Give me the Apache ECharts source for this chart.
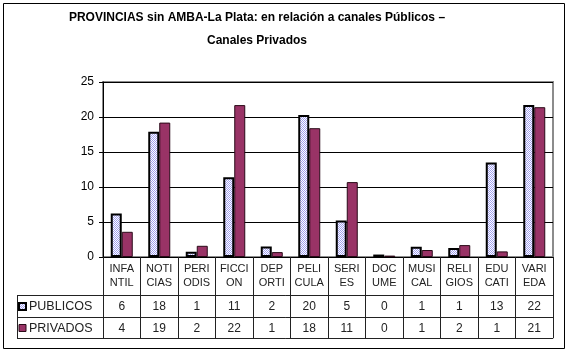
<!DOCTYPE html>
<html>
<head>
<meta charset="utf-8">
<script src="https://cdn.jsdelivr.net/npm/echarts@6/dist/echarts.min.js"></script>
<style>
  html, body { margin: 0; padding: 0; background: #fff; }
  #chart { width: 571px; height: 354px; }
</style>
</head>
<body>
<div id="chart"></div>
<script>
// datos
const categories = ['INFA\nNTIL', 'NOTI\nCIAS', 'PERI\nODIS', 'FICCI\nON', 'DEP\nORTI', 'PELI\nCULA',
  'SERI\nES', 'DOC\nUME', 'MUSI\nCAL', 'RELI\nGIOS', 'EDU\nCATI', 'VARI\nEDA'];
const publicos = [6.2, 17.9, 0.75, 11.4, 1.5, 20.3, 5.2, 0.35, 1.45, 1.3, 13.5, 21.7];
const privados = [3.6, 19.2, 1.6, 21.7, 0.7, 18.4, 10.7, 0.2, 1.0, 1.7, 0.8, 21.4];
const publicosTabla = [6, 18, 1, 11, 2, 20, 5, 0, 1, 1, 13, 22];
const privadosTabla = [4, 19, 2, 22, 1, 18, 11, 0, 1, 2, 1, 21];
const series = ['PUBLICOS', 'PRIVADOS'];

const font = 'Liberation Sans, Arial, sans-serif';
const narrow = 'Liberation Sans Narrow, Arial Narrow, Liberation Sans, sans-serif';

// relleno punteado de los públicos
const dots = document.createElement('canvas');
dots.width = 2;
dots.height = 2;
const ctx = dots.getContext('2d');
ctx.fillStyle = '#ffffff';
ctx.fillRect(0, 0, 2, 2);
ctx.fillStyle = '#a0a0f0';
ctx.fillRect(0, 0, 1, 1);
ctx.fillRect(1, 1, 1, 1);
const dotFill = { image: dots, repeat: 'repeat' };
const privColor = '#993366';

const chart = echarts.init(document.getElementById('chart'));

chart.setOption({
  animation: false,
  title: {
    text: 'PROVINCIAS sin AMBA-La Plata: en relación a canales Públicos –\nCanales Privados',
    left: 257,
    top: 6,
    padding: 0,
    textAlign: 'center',
    textStyle: { fontFamily: font, fontSize: 12, fontWeight: 'bold', color: '#000', lineHeight: 23 }
  },
  grid: {
    left: 103, right: 18, top: 82, bottom: 97,
    show: true, borderColor: '#8c8c8c', borderWidth: 2, backgroundColor: 'transparent'
  },
  xAxis: {
    type: 'category',
    data: categories,
    axisLine: { lineStyle: { color: '#000', width: 1 } },
    axisTick: { show: true, length: 81, lineStyle: { color: '#222' } },
    axisLabel: {
      interval: 0, margin: 5, fontFamily: narrow, fontSize: 11, lineHeight: 14, color: '#222'
    }
  },
  yAxis: {
    type: 'value',
    min: 0, max: 25, interval: 5,
    axisLine: { show: true, lineStyle: { color: '#000' } },
    axisTick: { show: true, length: 4, lineStyle: { color: '#000' } },
    axisLabel: { margin: 9, fontFamily: font, fontSize: 12, color: '#000' },
    splitLine: { lineStyle: { color: '#000', width: 1 } }
  },
  series: [
    {
      name: series[0],
      type: 'bar',
      data: publicos,
      barWidth: 11,
      barGap: '0%',
      itemStyle: { color: dotFill, borderColor: '#000', borderWidth: 2 }
    },
    {
      name: series[1],
      type: 'bar',
      data: privados,
      barWidth: 11,
      itemStyle: { color: privColor, borderColor: '#2a0a18', borderWidth: 1 }
    }
  ]
});

// tabla de datos bajo el eje
const rowTop = 295, rowMid = 317, rowBot = 338;
const tableLeft = 17;
const right = chart.convertToPixel({ xAxisIndex: 0 }, categories.length - 1) + 19;
const elems = [
  { type: 'rect', shape: { x: 3.5, y: 3.5, width: 561, height: 345 }, style: { fill: null, stroke: '#000', lineWidth: 1 } }
];
[rowTop, rowMid, rowBot].forEach(y => {
  elems.push({ type: 'line', shape: { x1: tableLeft, y1: y + 0.5, x2: right, y2: y + 0.5 }, style: { stroke: '#222', lineWidth: 1 } });
});
elems.push({ type: 'line', shape: { x1: tableLeft + 0.5, y1: rowTop, x2: tableLeft + 0.5, y2: rowBot }, style: { stroke: '#222', lineWidth: 1 } });

const rows = [
  { y: (rowTop + rowMid) / 2 + 1, vals: publicosTabla, fill: dotFill, stroke: '#000', lw: 2 },
  { y: (rowMid + rowBot) / 2 + 1, vals: privadosTabla, fill: privColor, stroke: '#2a0a18', lw: 1 }
];
rows.forEach((r, k) => {
  elems.push({ type: 'rect', shape: { x: 19, y: r.y - 4, width: 7, height: 7 }, style: { fill: r.fill, stroke: r.stroke, lineWidth: r.lw } });
  elems.push({ type: 'text', x: 29, y: r.y, style: { text: series[k], font: '12.5px ' + font, fill: '#222', verticalAlign: 'middle' } });
  r.vals.forEach((v, i) => {
    elems.push({
      type: 'text',
      x: chart.convertToPixel({ xAxisIndex: 0 }, i),
      y: r.y,
      style: { text: String(v), font: '12px ' + font, fill: '#222', align: 'center', verticalAlign: 'middle' }
    });
  });
});
chart.setOption({ graphic: { elements: elems } });
</script>
</body>
</html>
